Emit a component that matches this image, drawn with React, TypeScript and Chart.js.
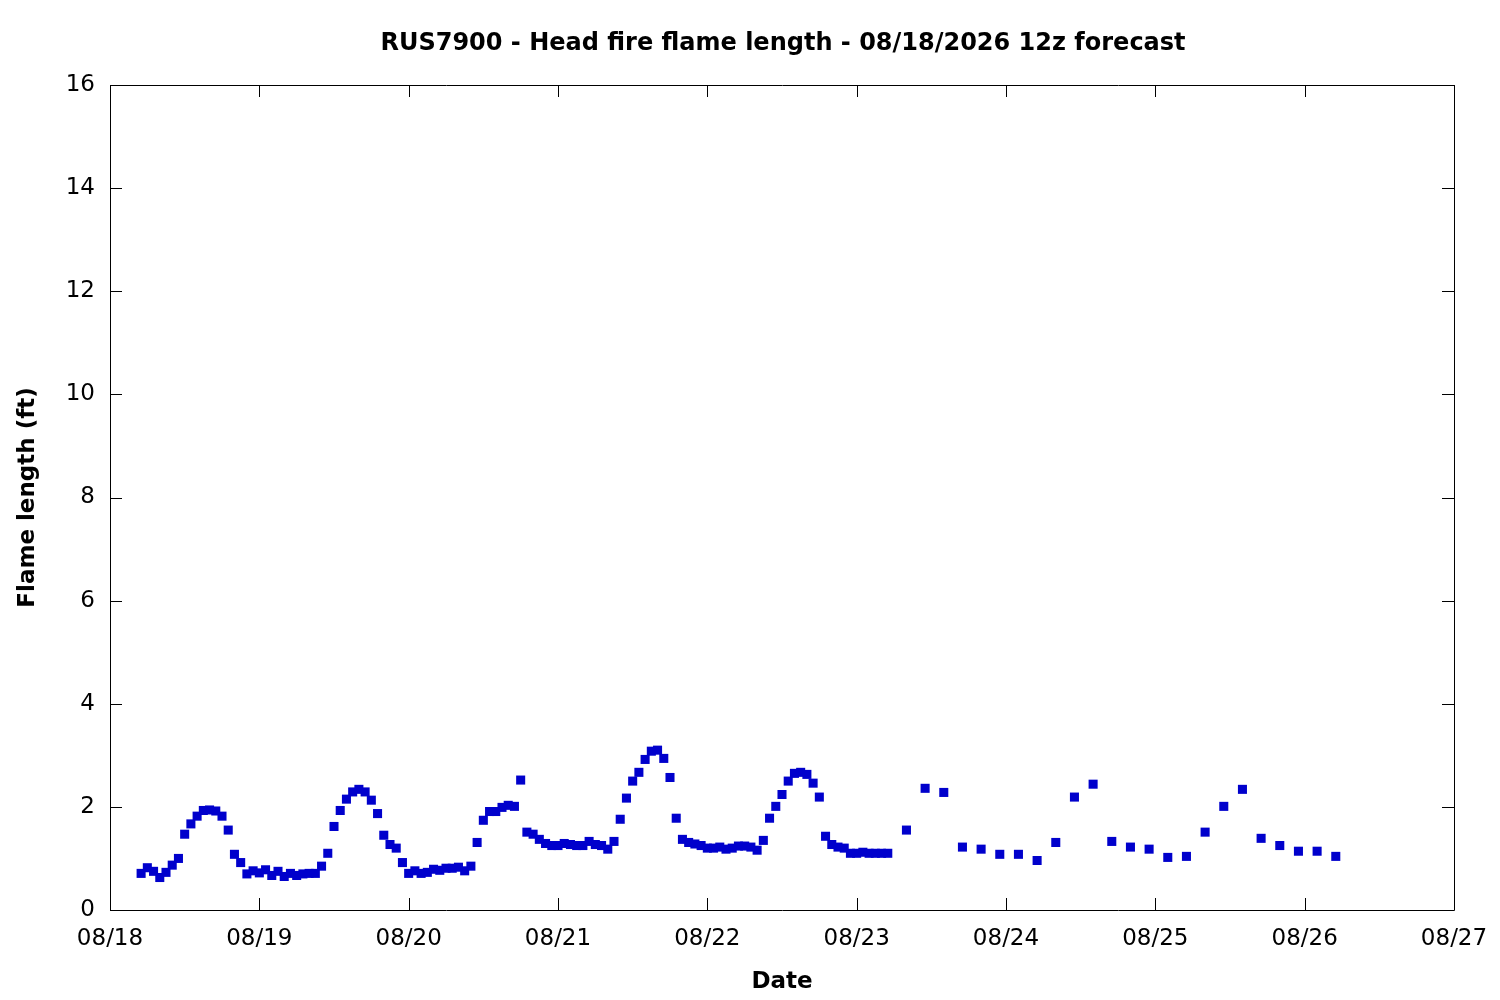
import React, { useEffect, useRef } from "react";
import { Chart, registerables } from "chart.js";

Chart.register(...registerables);

const titleText = "RUS7900 - Head fire flame length - 08/18/2026 12z forecast";

// hours after 08/18 00z
const hours = [
  5, 6, 7, 8, 9, 10, 11, 12, 13, 14, 15, 16, 17, 18, 19, 20, 21, 22, 23, 24,
  25, 26, 27, 28, 29, 30, 31, 32, 33, 34, 35, 36, 37, 38, 39, 40, 41, 42, 43, 44,
  45, 46, 47, 48, 49, 50, 51, 52, 53, 54, 55, 56, 57, 58, 59, 60, 61, 62, 63, 64,
  65, 66, 67, 68, 69, 70, 71, 72, 73, 74, 75, 76, 77, 78, 79, 80, 81, 82, 83, 84,
  85, 86, 87, 88, 89, 90, 91, 92, 93, 94, 95, 96, 97, 98, 99, 100, 101, 102, 103, 104,
  105, 106, 107, 108, 109, 110, 111, 112, 113, 114, 115, 116, 117, 118, 119, 120, 121, 122, 123, 124,
  125, 128, 131, 134, 137, 140, 143, 146, 149, 152, 155, 158, 161, 164, 167, 170, 173, 176, 179, 182,
  185, 188, 191, 194, 197,
];

const flameLength = [
  0.71, 0.82, 0.75, 0.63, 0.73, 0.87, 1.0, 1.47, 1.67, 1.82, 1.93, 1.94, 1.92, 1.82, 1.55, 1.08, 0.92, 0.7, 0.76, 0.72,
  0.78, 0.67, 0.75, 0.65, 0.71, 0.67, 0.7, 0.71, 0.71, 0.85, 1.1, 1.62, 1.93, 2.15, 2.29, 2.34, 2.29, 2.13, 1.87, 1.45,
  1.27, 1.2, 0.92, 0.71, 0.76, 0.71, 0.73, 0.79, 0.77, 0.81, 0.81, 0.83, 0.76, 0.85, 1.31, 1.74, 1.91, 1.91, 1.99, 2.03,
  2.01, 2.52, 1.51, 1.47, 1.37, 1.29, 1.25, 1.25, 1.29, 1.27, 1.25, 1.25, 1.33, 1.27, 1.25, 1.18, 1.33, 1.76, 2.17, 2.5,
  2.67, 2.92, 3.08, 3.1, 2.94, 2.57, 1.78, 1.37, 1.31, 1.28, 1.25, 1.2, 1.2, 1.22, 1.18, 1.2, 1.24, 1.24, 1.22, 1.16,
  1.35, 1.78, 2.01, 2.24, 2.5, 2.65, 2.67, 2.63, 2.46, 2.19, 1.43, 1.27, 1.22, 1.2, 1.1, 1.1, 1.12, 1.1, 1.1, 1.1,
  1.1, 1.55, 2.36, 2.28, 1.22, 1.18, 1.08, 1.08, 0.96, 1.31, 2.19, 2.44, 1.33, 1.22, 1.18, 1.02, 1.04, 1.51, 2.01, 2.34,
  1.39, 1.25, 1.14, 1.14, 1.04,
];

const dateLabels = ["08/18", "08/19", "08/20", "08/21", "08/22", "08/23", "08/24", "08/25", "08/26", "08/27"];

const FONT = "'DejaVu Sans', sans-serif";

// gnuplot style frame with inward ticks on all four sides
const framePlugin = {
  id: "frame",
  afterDraw(chart: any) {
    const { ctx, chartArea: a, scales } = chart;
    const tl = 12;
    ctx.save();
    ctx.strokeStyle = "#000";
    ctx.lineWidth = 1;
    ctx.beginPath();
    ctx.rect(Math.round(a.left) + 0.5, Math.round(a.top) + 0.5, Math.round(a.right - a.left), Math.round(a.bottom - a.top));
    scales.x.ticks.forEach((t: any) => {
      const x = Math.round(scales.x.getPixelForValue(t.value)) + 0.5;
      ctx.moveTo(x, a.bottom);
      ctx.lineTo(x, a.bottom - tl);
      ctx.moveTo(x, a.top);
      ctx.lineTo(x, a.top + tl);
    });
    scales.y.ticks.forEach((t: any) => {
      const y = Math.round(scales.y.getPixelForValue(t.value)) + 0.5;
      ctx.moveTo(a.left, y);
      ctx.lineTo(a.left + tl, y);
      ctx.moveTo(a.right, y);
      ctx.lineTo(a.right - tl, y);
    });
    ctx.stroke();

    ctx.fillStyle = "#000";
    ctx.font = `bold 24px ${FONT}`;
    ctx.textAlign = "center";
    ctx.textBaseline = "middle";
    ctx.fillText(titleText, (a.left + a.right) / 2 + 1, 44);
    ctx.restore();
  },
};

const FlameChart = () => {
  const canvasRef = useRef<HTMLCanvasElement | null>(null);

  useEffect(() => {
    const ctx = canvasRef.current?.getContext("2d");
    if (!ctx) return;

    const chart = new Chart(ctx, {
      type: "scatter",
      data: {
        datasets: [
          {
            label: "Flame length",
            data: hours.map((h, i) => ({ x: h, y: flameLength[i] })),
            pointStyle: "rect",
            pointRadius: 6.4,
            pointBorderWidth: 0,
            backgroundColor: "#0000cc",
            borderColor: "#0000cc",
          },
        ],
      },
      options: {
        animation: false,
        responsive: false,
        devicePixelRatio: 1,
        layout: { padding: { top: 85, right: 46, left: 0, bottom: 0 } },
        plugins: {
          legend: { display: false },
          tooltip: { enabled: false },
        },
        scales: {
          x: {
            type: "linear",
            min: 0,
            max: 216,
            afterFit: (s: any) => {
              s.height = 90;
              s.paddingLeft = 0;
              s.paddingRight = 0;
            },
            grid: { display: false, drawTicks: false },
            border: { display: false },
            ticks: {
              stepSize: 24,
              padding: 15,
              color: "#000",
              font: { family: FONT, size: 23 },
              maxRotation: 0,
              callback: (v: any) => dateLabels[Math.round(Number(v) / 24)],
            },
            title: {
              display: true,
              text: "Date",
              color: "#000",
              font: { family: FONT, size: 23, weight: "bold" },
              padding: { top: 0, bottom: 4 },
            },
          },
          y: {
            min: 0,
            max: 16,
            afterFit: (s: any) => {
              s.width = 110;
              s.paddingTop = 0;
              s.paddingBottom = 0;
            },
            grid: { display: false, drawTicks: false },
            border: { display: false },
            ticks: {
              stepSize: 2,
              padding: 15,
              color: "#000",
              font: { family: FONT, size: 23 },
            },
            title: {
              display: true,
              text: "Flame length (ft)",
              color: "#000",
              font: { family: FONT, size: 23, weight: "bold" },
              padding: { top: 14, bottom: 0 },
            },
          },
        },
      },
      plugins: [framePlugin],
    });

    return () => {
      chart.destroy();
    };
  }, []);

  return <canvas ref={canvasRef} width={1500} height={1000} />;
};

export default function App() {
  return (
    <div style={{ position: "absolute", left: 0, top: 0, width: 1500, height: 1000, background: "#fff" }}>
      <FlameChart />
    </div>
  );
}
